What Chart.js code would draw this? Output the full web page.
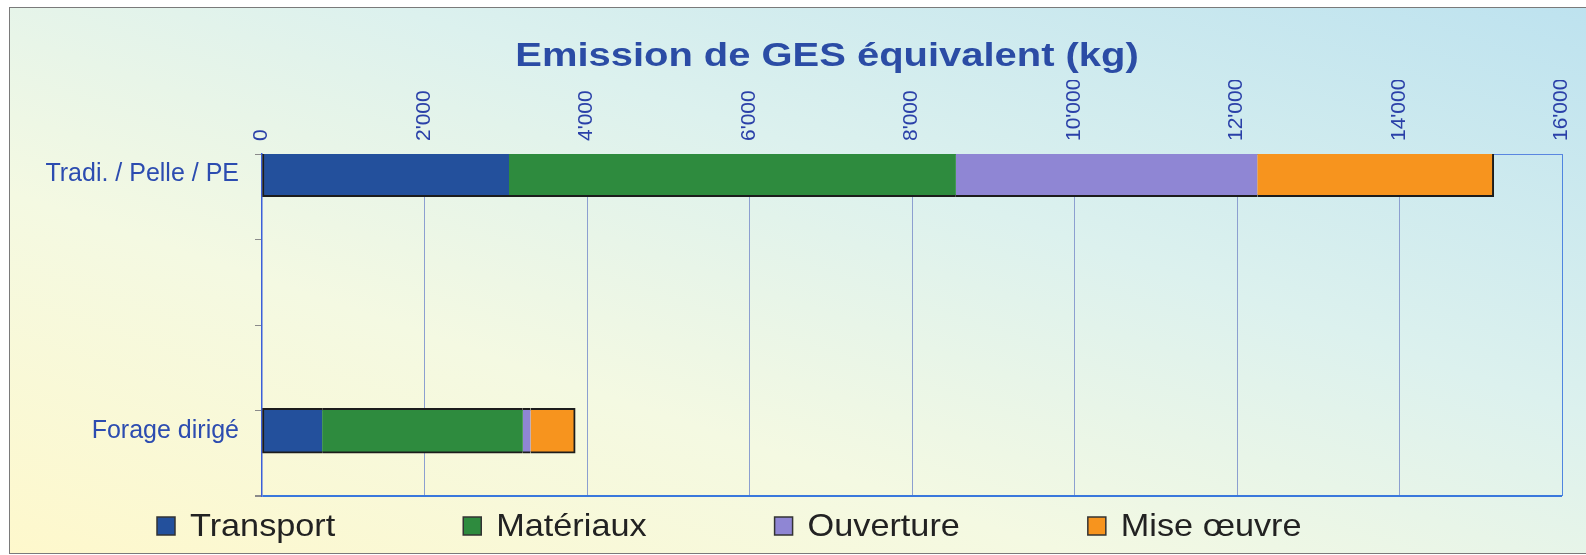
<!DOCTYPE html>
<html><head><meta charset="utf-8">
<script src="https://cdn.jsdelivr.net/npm/chart.js@4.4.1/dist/chart.umd.min.js"></script>
<style>
html,body{margin:0;padding:0;background:#fff;}
#wrap{position:relative;width:1586px;height:555px;overflow:hidden;}
#bg{position:absolute;left:9px;top:7px;width:1600px;height:545px;border:1.5px solid #7a7a7a;
 background:linear-gradient(to top right,#fef8cc 0%,#f4f9e2 33%,#dcf1ee 62%,#bde2ef 100%);}
canvas{position:absolute;left:0;top:0;}
</style></head><body>
<div id="wrap"><div id="bg"></div><canvas id="c" width="1586" height="555"></canvas></div>
<script>
// ---- data ----
const categories = ['Tradi. / Pelle / PE', '', '', 'Forage dirigé'];
const seriesNames = ['Transport', 'Matériaux', 'Ouverture', 'Mise œuvre'];
const transport  = [3040, null, null, 740];
const materiaux  = [5500, null, null, 2470];
const ouverture  = [3710, null, null, 95];
const miseOeuvre = [2910, null, null, 550];
const xTickLabels = ["0", "2'000", "4'000", "6'000", "8'000", "10'000", "12'000", "14'000", "16'000"];
const titleText = 'Emission de GES équivalent (kg)';

// ---- styles ----
const FONT = '"Liberation Sans", Arial, sans-serif';
const colors = ['#23509c', '#2e8b3e', '#8f86d4', '#f7941e'];
const seriesValues = [transport, materiaux, ouverture, miseOeuvre];

const datasets = seriesValues.map((d, i) => ({
  label: seriesNames[i],
  data: d,
  stack: 'ges',
  backgroundColor: colors[i],
  borderColor: '#1c1c1c',
  borderWidth: {top: 2, bottom: 2, left: i === 0 ? 2 : 0, right: i === seriesValues.length - 1 ? 2 : 0},
  borderSkipped: false,
  barThickness: 45
}));
// empty companion stack so the bars sit in the upper half of each category slot
datasets.push({label: '', data: categories.map(() => null), stack: 'spacer', barThickness: 45});

const titlePlugin = {
  id: 'gesTitle',
  beforeDatasetsDraw(chart) {
    const ctx = chart.ctx;
    ctx.save();
    ctx.font = 'bold 33px ' + FONT;
    ctx.fillStyle = '#2b4ca5';
    ctx.textAlign = 'center';
    ctx.textBaseline = 'alphabetic';
    ctx.translate(827, 66);
    ctx.scale(1.21, 1);
    ctx.fillText(titleText, 0, 0);
    ctx.restore();
  }
};

const legendPlugin = {
  id: 'gesLegend',
  afterDraw(chart) {
    const ctx = chart.ctx;
    ctx.save();
    ctx.font = '32px ' + FONT;
    ctx.textBaseline = 'alphabetic';
    ctx.textAlign = 'left';
    let x = 157;
    chart.data.datasets.filter(d => d.label).forEach(ds => {
      ctx.fillStyle = ds.backgroundColor;
      ctx.fillRect(x, 517, 18, 18);
      ctx.strokeStyle = '#333';
      ctx.lineWidth = 1.5;
      ctx.strokeRect(x, 517, 18, 18);
      ctx.fillStyle = '#222';
      ctx.save();
      ctx.translate(x + 33, 536);
      ctx.scale(1.07, 1);
      ctx.fillText(ds.label, 0, 0);
      ctx.restore();
      x += 33 + ctx.measureText(ds.label).width * 1.07 + 128;
    });
    ctx.restore();
  }
};

new Chart(document.getElementById('c'), {
  type: 'bar',
  data: {labels: categories, datasets: datasets},
  plugins: [titlePlugin, legendPlugin],
  options: {
    indexAxis: 'y',
    responsive: false,
    animation: false,
    layout: {padding: {top: 80, left: 0, right: 24, bottom: 59}},
    plugins: {legend: {display: false}, title: {display: false}, tooltip: {enabled: false}},
    scales: {
      x: {
        position: 'top',
        stacked: true,
        min: 0, max: 16000,
        ticks: {
          stepSize: 2000, autoSkip: false, minRotation: 90, maxRotation: 90, padding: 13,
          labelOffset: 24.5,
          color: '#2a40a8', font: {family: FONT, size: 21},
          callback: (v, i) => xTickLabels[i]
        },
        grid: {
          drawTicks: false, lineWidth: 1,
          color: ctx => {
            if (!ctx.tick) return 'rgba(0,0,0,0)';
            if (ctx.tick.value === 0) return 'rgba(0,0,0,0)';
            if (ctx.tick.value === 16000) return '#4f85e0';
            return '#8c9fd0';
          }
        },
        border: {display: true, color: '#5a86e0', width: 1},
        afterFit: s => { s.height = 74; }
      },
      y: {
        stacked: true,
        ticks: {labelOffset: -22.5, padding: 16, color: '#2c4cb0', font: {family: FONT, size: 25}},
        grid: {
          drawOnChartArea: true, drawTicks: true, tickLength: 7, tickColor: '#8a8a8a',
          color: ctx => ctx.type === 'scale' ? '#3a78dc' : 'rgba(0,0,0,0)',
          lineWidth: ctx => ctx.type === 'scale' ? 2 : 1
        },
        border: {display: true, color: '#3b5fd9', width: 1.5},
        afterFit: s => { s.width = 262; }
      }
    }
  }
});
</script>
</body></html>
